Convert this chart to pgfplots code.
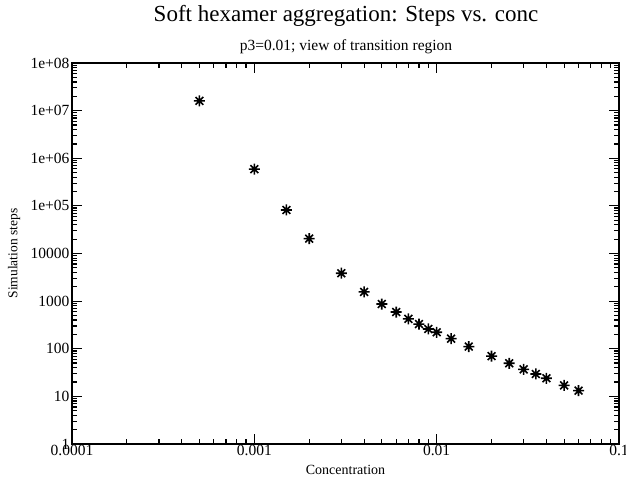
\documentclass[border=0pt]{standalone}
\usepackage{pgfplots}
\pgfplotsset{compat=1.18}
\usepackage{fontspec}
\setmainfont{Liberation Serif}
\pgfdeclareplotmark{gstar}{%
  \pgfpathmoveto{\pgfqpoint{-\pgfplotmarksize}{0pt}}\pgfpathlineto{\pgfqpoint{\pgfplotmarksize}{0pt}}%
  \pgfpathmoveto{\pgfqpoint{0pt}{-\pgfplotmarksize}}\pgfpathlineto{\pgfqpoint{0pt}{\pgfplotmarksize}}%
  \pgfpathmoveto{\pgfqpoint{-0.707\pgfplotmarksize}{-0.707\pgfplotmarksize}}\pgfpathlineto{\pgfqpoint{0.707\pgfplotmarksize}{0.707\pgfplotmarksize}}%
  \pgfpathmoveto{\pgfqpoint{-0.707\pgfplotmarksize}{0.707\pgfplotmarksize}}\pgfpathlineto{\pgfqpoint{0.707\pgfplotmarksize}{-0.707\pgfplotmarksize}}%
  \pgfusepathqstroke}
\begin{document}
\begin{tikzpicture}
\path[use as bounding box] (0,0) rectangle (626pt,481pt);
\begin{axis}[
  at={(72pt,37pt)}, anchor=south west,
  scale only axis, width=547pt, height=381pt,
  xmode=log, ymode=log,
  xmin=0.0001, xmax=0.1, ymin=1, ymax=1e8,
  xtick={0.0001,0.001,0.01,0.1},
  xticklabels={0.0001,0.001,0.01,0.1},
  ytick={1,10,100,1000,10000,1e5,1e6,1e7,1e8},
  yticklabels={1,10,100,1000,10000,1e+05,1e+06,1e+07,1e+08},
  tick align=inside,
  major tick length=10pt, minor tick length=5pt,
  every tick/.style={black, line width=1.2pt},
  axis line style={line width=2pt},
  tick label style={font=\fontsize{15.5}{18}\selectfont},
  xticklabel style={yshift=2pt},
  yticklabel style={xshift=1pt},
  xlabel={Concentration},
  ylabel={Simulation steps},
  xlabel style={font=\fontsize{14}{17}\selectfont, at={(axis description cs:0.5,-0.068)}, anchor=center},
  ylabel style={font=\fontsize{13.5}{16}\selectfont, at={(axis description cs:-0.106,0.5)}, anchor=center},
  clip=false,
]
\addplot[only marks, mark=gstar, mark size=5.5pt, line width=1.6pt, black] coordinates {
(0.0005,1.6e7)
(0.001,5.9e5)
(0.0015,8.2e4)
(0.002,2.05e4)
(0.003,3850)
(0.004,1560)
(0.005,870)
(0.006,590)
(0.007,425)
(0.008,330)
(0.009,260)
(0.01,222)
(0.012,163)
(0.015,111)
(0.02,70)
(0.025,49.5)
(0.03,37)
(0.035,29.5)
(0.04,24)
(0.05,17)
(0.06,13.2)
};
\end{axis}
\node[font=\fontsize{23}{27}\selectfont] at (346pt,465pt) {Soft hexamer aggregation: Steps vs. conc};
\node[font=\fontsize{15.5}{18}\selectfont] at (346pt,434pt) {p3=0.01; view of transition region};
\end{tikzpicture}
\end{document}
